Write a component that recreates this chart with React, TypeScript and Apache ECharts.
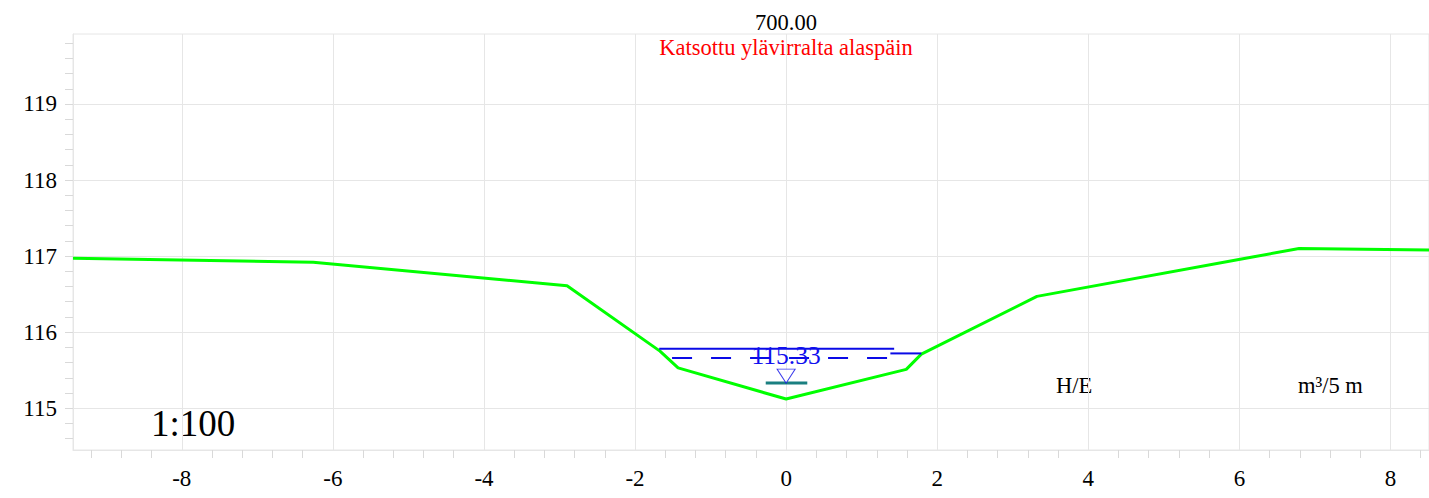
import React, { useEffect, useRef } from "react";
import * as echarts from "echarts";

// Ground profile (offset m, elevation m)
const profileX = [-9.44, -6.26, -2.9, -1.67, -1.43, 0, 1.59, 1.79, 3.32, 6.79, 8.51];
const profileY = [116.97, 116.92, 116.61, 115.75, 115.53, 115.12, 115.51, 115.71, 116.47, 117.1, 117.08];

// Water lines
const highWaterX = [-1.68, 1.43];
const highWaterY = 115.78;
const highWater2X = [1.38, 1.79];
const highWater2Y = 115.72;
const meanWaterX = [-1.51, 1.38];
const meanWaterY = 115.66;
const waterLevelX = [-0.27, 0.28];
const waterLevel = 115.33;

// Axes
const xMin = -9.44;
const xMax = 8.51;
const yMin = 114.45;
const yMax = 119.92;
const xMajor = [-8, -6, -4, -2, 0, 2, 4, 6, 8];
const yMajor = [115, 116, 117, 118, 119];

const stationLabel = "700.00";
const viewLabel = "Katsottu ylävirralta alaspäin";
const scaleLabel = "1:100";
const heLabel = "H/E";
const volLabel = "m³/5 m";

const FONT = "'Liberation Serif', 'Times New Roman', serif";

function buildXMinor(): number[] {
  const out: number[] = [];
  for (let i = -23; i <= 21; i++) {
    const v = Math.round(i * 0.4 * 10) / 10;
    if (v < xMin || v > xMax) continue;
    if (xMajor.indexOf(v) >= 0) continue;
    out.push(v);
  }
  return out;
}
function buildYTicks(): number[] {
  const out: number[] = [];
  for (let i = 573; i <= 599; i++) {
    const v = Math.round(i * 0.2 * 10) / 10;
    if (v < yMin || v > yMax) continue;
    out.push(v);
  }
  return out;
}

export default function App() {
  const ref = useRef<HTMLDivElement>(null);
  useEffect(() => {
    if (!ref.current) return;
    const chart = echarts.init(ref.current, undefined, { renderer: "svg" });
    const xMinor = buildXMinor();
    const yTicks = buildYTicks();
    const gridColor = "#e6e6e6";
    const tickColor = "#d9d9d9";
    const blue = "#0a0ae6";
    const pair = (xs: number[], y: number) => xs.map((x) => [x, y]);
    chart.setOption({
      animation: false,
      backgroundColor: "#ffffff",
      grid: {
        left: 73,
        right: 0,
        top: 34,
        bottom: 48,
        show: true,
        borderColor: gridColor,
        borderWidth: 1,
      },
      xAxis: [
        {
          type: "value",
          min: xMin,
          max: xMax,
          position: "bottom",
          axisLine: { show: true, onZero: false, lineStyle: { color: gridColor } },
          axisTick: { show: true, customValues: xMinor, length: 8, lineStyle: { color: tickColor } },
          axisLabel: {
            customValues: xMajor,
            margin: 17,
            color: "#000",
            fontSize: 23,
            fontFamily: FONT,
          },
          splitLine: { show: false },
        },
        {
          type: "value",
          min: xMin,
          max: xMax,
          position: "bottom",
          axisLine: { show: false },
          axisTick: { show: false, customValues: xMajor },
          axisLabel: { show: false },
          splitLine: { show: true, lineStyle: { color: gridColor } },
        },
      ],
      yAxis: [
        {
          type: "value",
          min: yMin,
          max: yMax,
          position: "left",
          axisLine: { show: true, onZero: false, lineStyle: { color: gridColor } },
          axisTick: { show: true, customValues: yTicks, length: 8, lineStyle: { color: tickColor } },
          axisLabel: {
            customValues: yMajor,
            margin: 16,
            color: "#000",
            fontSize: 23,
            fontFamily: FONT,
          },
          splitLine: { show: false },
        },
        {
          type: "value",
          min: yMin,
          max: yMax,
          position: "left",
          axisLine: { show: false },
          axisTick: { show: false, customValues: yMajor },
          axisLabel: { show: false },
          splitLine: { show: true, lineStyle: { color: gridColor } },
        },
      ],
      series: [
        {
          type: "line",
          name: "profile",
          data: profileX.map((x, i) => [x, profileY[i]]),
          symbol: "none",
          lineStyle: { color: "#00ff00", width: 3 },
          z: 3,
        },
        {
          type: "line",
          data: pair(highWaterX, highWaterY),
          symbol: "none",
          lineStyle: { color: blue, width: 2 },
          z: 4,
        },
        {
          type: "line",
          data: pair(highWater2X, highWater2Y),
          symbol: "none",
          lineStyle: { color: blue, width: 2 },
          z: 4,
        },
        {
          type: "line",
          data: pair(meanWaterX, meanWaterY),
          symbol: "none",
          lineStyle: { color: blue, width: 2, type: [20, 19] },
          z: 4,
        },
        {
          type: "line",
          data: pair(waterLevelX, waterLevel),
          symbol: "none",
          lineStyle: { color: "#1a7f80", width: 3 },
          z: 4,
        },
        {
          type: "scatter",
          data: [[0, waterLevel]],
          symbol: "triangle",
          symbolRotate: 180,
          symbolSize: [18, 14],
          symbolOffset: [0, -7],
          itemStyle: { color: "#ffffff", borderColor: blue, borderWidth: 1 },
          z: 5,
        },
        {
          type: "scatter",
          data: [[0, waterLevel]],
          symbolSize: 1,
          itemStyle: { color: "transparent" },
          label: {
            show: true,
            position: "inside",
            offset: [0, -28],
            formatter: (p: any) => p.value[1].toFixed(2),
            color: "#1010ee",
            opacity: 1,
            fontSize: 25.5,
            fontFamily: FONT,
          },
          z: 6,
        },
      ],
      graphic: [
        {
          type: "text",
          x: 786,
          y: 22,
          style: { text: stationLabel, fill: "#000", font: `22.5px ${FONT}`, align: "center", verticalAlign: "middle" },
        },
        {
          type: "text",
          x: 786,
          y: 47,
          style: { text: viewLabel, fill: "#ff0000", font: `22.5px ${FONT}`, align: "center", verticalAlign: "middle" },
        },
        {
          type: "text",
          x: 151,
          y: 423,
          style: { text: scaleLabel, fill: "#000", font: `37px ${FONT}`, align: "left", verticalAlign: "middle" },
        },
        {
          type: "text",
          x: 1056,
          y: 385,
          style: { text: heLabel, fill: "#000", font: `22.5px ${FONT}`, align: "left", verticalAlign: "middle" },
        },
        {
          type: "text",
          x: 1298,
          y: 385,
          style: { text: volLabel, fill: "#000", font: `22.5px ${FONT}`, align: "left", verticalAlign: "middle" },
        },
      ],
    });
    return () => chart.dispose();
  }, []);
  return (
    <div
      ref={ref}
      style={{ position: "fixed", left: 0, top: 0, width: 1429, height: 498 }}
    />
  );
}
